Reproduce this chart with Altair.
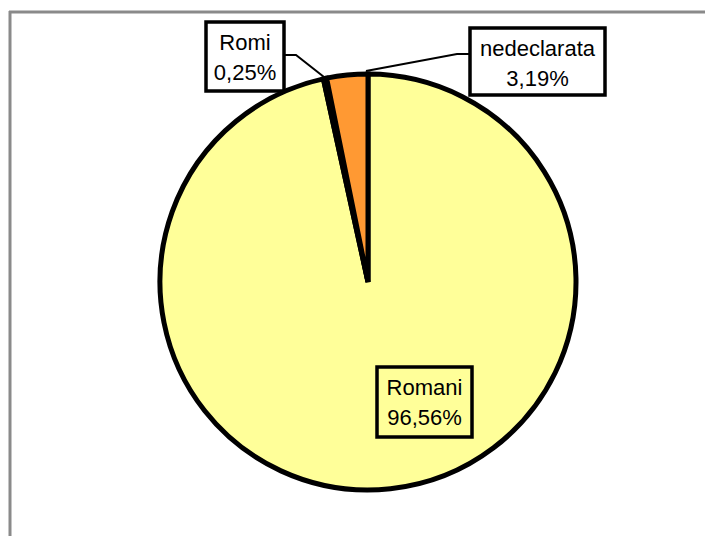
import altair as alt
import pandas as pd

# ---- data ----
categories = ["Romani", "Romi", "nedeclarata"]
values = [96.56, 0.25, 3.19]
colors = ["#FFFF99", "#FF9933", "#FF9933"]

# ---- layout (page pixels, separate from data) ----
OFF = 8  # page margin
center = (368, 282)
radius = 208
label_boxes = {  # x0, y0, x1, y1
    "Romani": (377, 367, 472, 437),
    "Romi": (206, 22, 284, 91),
    "nedeclarata": (470, 28, 605, 95),
}
box_fill = {"Romani": "transparent", "Romi": "white", "nedeclarata": "white"}
leaders = {
    "Romi": [(284, 55), (296, 55), (324, 77)],
    "nedeclarata": [(470, 54), (457, 54), (366, 71)],
}

def fmt(v):
    return f"{v:.2f}".replace(".", ",") + "%"

pie_df = pd.DataFrame({
    "category": categories,
    "value": values,
    "rank": list(range(len(categories))),
})

lab_rows = []
for c, v in zip(categories, values):
    x0, y0, x1, y1 = label_boxes[c]
    lab_rows.append({
        "category": c,
        "text": f"{c}\n{fmt(v)}",
        "x0": x0 - OFF, "y0": y0 - OFF, "x1": x1 - OFF, "y1": y1 - OFF,
        "tx": (x0 + x1) / 2 - OFF, "ty": y0 + 28 - OFF,
        "fill": box_fill[c],
    })
lab_df = pd.DataFrame(lab_rows)

lead_rows = []
for c, pts in leaders.items():
    for i, (px, py) in enumerate(pts):
        lead_rows.append({"category": c, "i": i, "x": px - OFF, "y": py - OFF})
lead_df = pd.DataFrame(lead_rows)

W, H = 697, 528

frame_left = alt.Chart(alt.Data(values=[{}])).mark_rule(
    color="#8a8a8a", strokeWidth=3
).encode(x=alt.value(2), y=alt.value(3), y2=alt.value(H))

frame_top = alt.Chart(alt.Data(values=[{}])).mark_rule(
    color="#8a8a8a", strokeWidth=3
).encode(x=alt.value(1), x2=alt.value(W), y=alt.value(4))

pie = alt.Chart(pie_df).mark_arc(
    radius=radius, stroke="black", strokeWidth=5, strokeJoin="miter"
).encode(
    theta=alt.Theta("value:Q", stack=True),
    order=alt.Order("rank:Q", sort="ascending"),
    color=alt.Color("category:N",
                    scale=alt.Scale(domain=categories, range=colors),
                    legend=None),
    x=alt.value(center[0] - OFF),
    y=alt.value(center[1] - OFF),
)

lines = alt.Chart(lead_df).mark_line(color="black", strokeWidth=2).encode(
    x=alt.X("x:Q", scale=None, axis=None),
    y=alt.Y("y:Q", scale=None, axis=None),
    detail="category:N",
    order="i:Q",
)

boxes = alt.Chart(lab_df).mark_rect(stroke="black", strokeWidth=3.5).encode(
    x=alt.X("x0:Q", scale=None, axis=None),
    x2="x1:Q",
    y=alt.Y("y0:Q", scale=None, axis=None),
    y2="y1:Q",
    fill=alt.Fill("fill:N", scale=None, legend=None),
)

texts = alt.Chart(lab_df).mark_text(
    font="Liberation Sans", fontSize=22, lineBreak="\n", lineHeight=30,
    align="center", baseline="alphabetic", color="black"
).encode(
    x=alt.X("tx:Q", scale=None, axis=None),
    y=alt.Y("ty:Q", scale=None, axis=None),
    text="text:N",
)

chart = alt.layer(frame_left, frame_top, pie, lines, boxes, texts).properties(
    width=W, height=H, autosize=alt.AutoSizeParams(type="none"), padding=0
).configure_view(stroke=None)

chart.save("out.html", embed_options={"renderer": "svg", "actions": False})
